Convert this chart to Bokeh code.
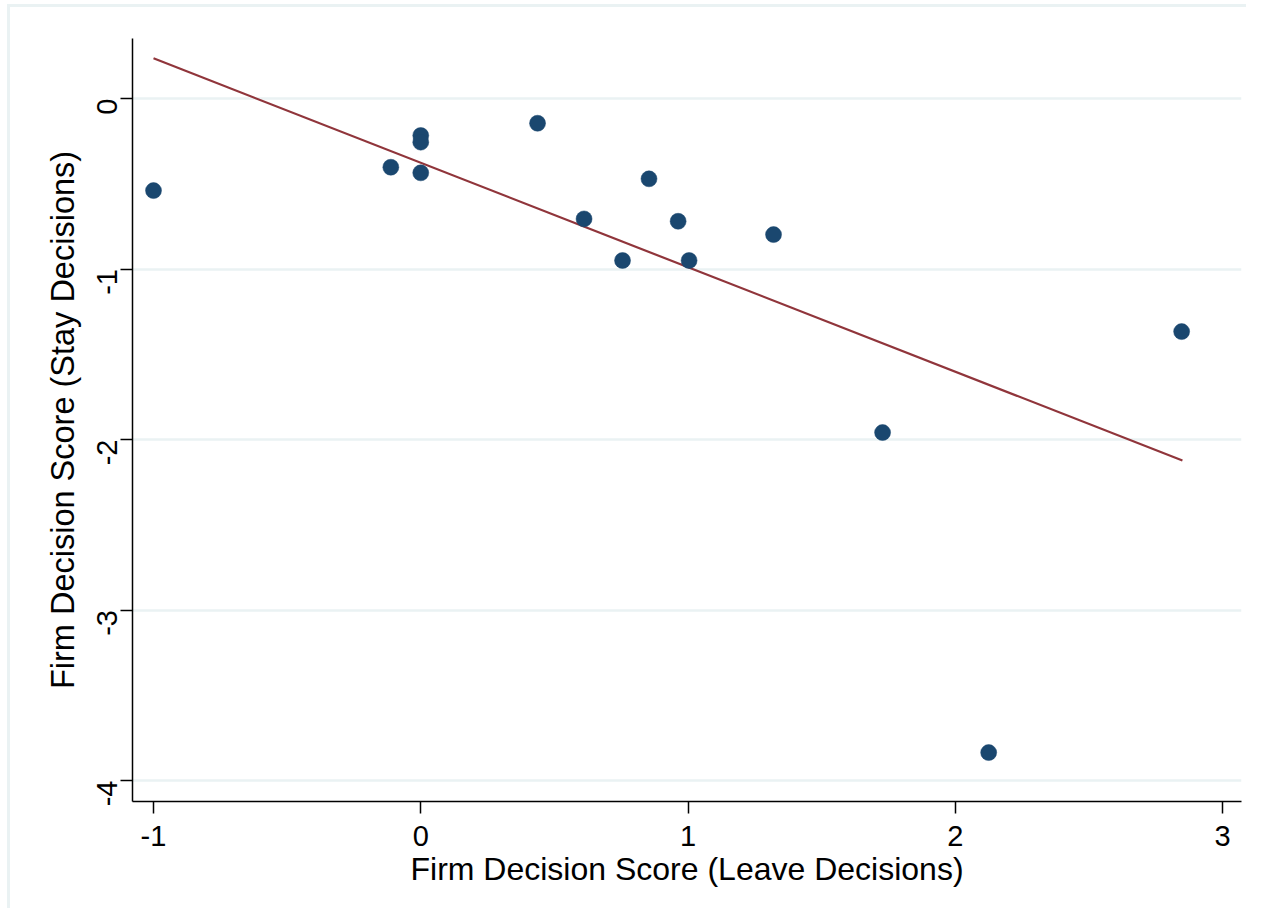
import math
from bokeh.plotting import figure
from bokeh.models import Range1d, FixedTicker
from bokeh.embed import file_html
from bokeh.resources import INLINE

# Data
leave_score = [-1.0, -0.112, 0.0, 0.0, 0.0, 0.437, 0.611, 0.755, 0.854, 0.963, 1.004, 1.32, 1.728, 2.125, 2.847]
stay_score = [-0.54, -0.403, -0.217, -0.256, -0.436, -0.145, -0.706, -0.95, -0.471, -0.72, -0.95, -0.798, -1.959, -3.836, -1.367]
fit_x = [-1.0, 2.85]
fit_y = [0.236, -2.123]
x_ticks = [-1, 0, 1, 2, 3]
y_ticks = [0, -1, -2, -3, -4]

x_title = "Firm Decision Score (Leave Decisions)"
y_title = "Firm Decision Score (Stay Decisions)"

FONT = "Liberation Sans"
DOT = "#1a476f"
FIT = "#90353b"
GRID = "#eaf2f3"

p = figure(
    width=1246, height=908,
    output_backend="svg", toolbar_location=None,
    x_range=Range1d(-1.0786, 3.071), y_range=Range1d(-4.123, 0.352),
    min_border_left=132, min_border_right=5, min_border_top=38, min_border_bottom=107,
    background_fill_color="white", border_fill_color=None,
)
p.outline_line_color = None

# outer light frame (top and left edges) painted behind the transparent border area
p.styles = {
    "background-color": "white",
    "background-image": f"linear-gradient({GRID}, {GRID}), linear-gradient({GRID}, {GRID})",
    "background-position": "7px 4px, 7px 4px",
    "background-size": "3px 100%, 100% 3px",
    "background-repeat": "no-repeat, no-repeat",
}

# grid
p.xgrid.grid_line_color = None
p.ygrid.grid_line_color = GRID
p.ygrid.grid_line_width = 2.5
p.ygrid.ticker = FixedTicker(ticks=y_ticks)

# axes
p.xaxis.ticker = FixedTicker(ticks=x_ticks)
p.yaxis.ticker = FixedTicker(ticks=y_ticks)
p.xaxis.major_label_overrides = {t: str(t) for t in x_ticks}
p.yaxis.major_label_overrides = {t: str(t) for t in y_ticks}
for ax in (p.xaxis[0], p.yaxis[0]):
    ax.axis_line_color = "black"
    ax.axis_line_width = 1.5
    ax.major_tick_line_color = "black"
    ax.major_tick_line_width = 1.5
    ax.major_tick_out = 12
    ax.major_tick_in = 0
    ax.minor_tick_line_color = None
    ax.major_label_text_font = FONT
    ax.axis_label_text_font = FONT
    ax.axis_label_text_font_style = "normal"
    ax.major_label_text_color = "black"
    ax.axis_label_text_color = "black"

p.xaxis.axis_label = x_title
p.xaxis.major_label_text_font_size = "29px"
p.xaxis.axis_label_text_font_size = "32px"
p.xaxis.major_label_standoff = 12
p.xaxis.axis_label_standoff = 2

p.yaxis.axis_label = y_title
p.yaxis.major_label_orientation = math.pi / 2
p.yaxis.major_label_text_font_size = "29px"
p.yaxis.axis_label_text_font_size = "32.5px"
p.yaxis.major_label_standoff = 13
p.yaxis.axis_label_standoff = 4

# fitted line and points
p.line(fit_x, fit_y, line_color=FIT, line_width=2.2)
p.scatter(leave_score, stay_score, size=16, fill_color=DOT, line_color=DOT, line_width=0.5)

open("out.html", "w").write(file_html(p, INLINE))
